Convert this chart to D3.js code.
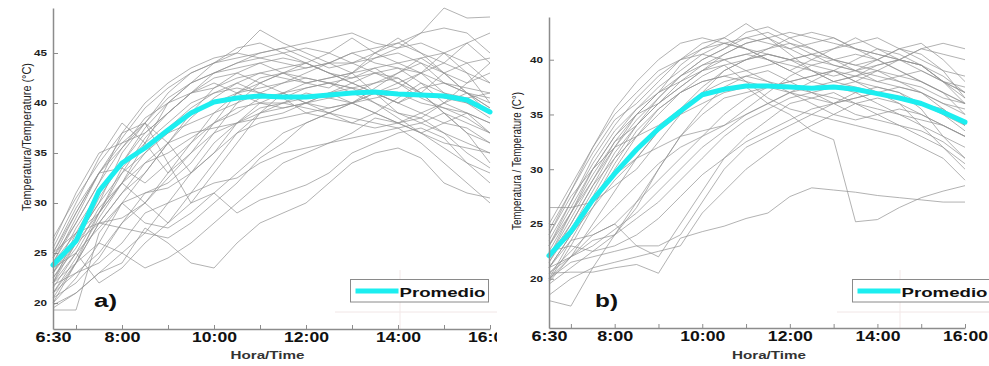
<!DOCTYPE html>
<html>
<head>
<meta charset="utf-8">
<script src="https://cdn.jsdelivr.net/npm/d3@7/dist/d3.min.js"></script>
<style>
  html, body { margin: 0; padding: 0; background: #fff; }
  svg { display: block; font-family: "Liberation Sans", Arial, sans-serif; }
</style>
</head>
<body>
<svg id="chart" width="989" height="366"></svg>
<script>
// ---------- DATA ----------
const hours = [6.5,7,7.5,8,8.5,9,9.5,10,10.5,11,11.5,12,12.5,13,13.5,14,14.5,15,15.5,16];
const xTickValues = [6.5,7,8,9,10,11,12,13,14,15,16];
const xTickLabels = {6.5:"6:30", 8:"8:00", 10:"10:00", 12:"12:00", 14:"14:00", 16:"16:00"};
const yTicksA = [20,25,30,35,40,45];
const yTicksB = [20,25,30,35,40];
const legendLabel = "Promedio";

const averageA = [23.8,26.2,31.2,34.0,35.5,37.3,39.0,40.1,40.5,40.7,40.6,40.6,40.8,41.0,41.1,40.9,40.8,40.7,40.3,39.1];
const averageB = [22.1,24.3,27.2,29.6,31.8,33.7,35.3,36.8,37.3,37.6,37.6,37.5,37.4,37.5,37.3,36.9,36.5,36.0,35.2,34.3];

const seriesA = [
  [26.5,30.5,34,37,40,42,43.5,44.5,45,44.5,44,43.5,44,45,45.5,46,45,44,43,42],
  [25,29,33,36.5,39.5,41.5,43,44,44.5,45,45.5,46,46.5,47,46,45.5,47,49.5,48.5,48.6],
  [24,28,32,35.5,38,40.5,42,43,43.5,44,43,42.5,42,41.5,42,43,44,42,41,40],
  [22,26,30.5,34,37.5,40,42,44,45,47.3,46,45,44,43,44.5,45.5,46,45,44,44.5],
  [23,27.5,31,34,37,39,41,42.5,43,42,41,40,39.5,40,41,42,43,41,40,38.5],
  [21.5,25,29,33.5,36,38,40,41,41.5,41,40.5,39,38.5,38,39,40.5,42,40,39,37],
  [25.5,30,34.5,38,36,33,35,38,41,42,43,44,45,46.5,45,44,43,44,46,47],
  [20,24,28,31,33,36,38.5,40.5,42,43,43.5,44,43,42,41,40,41,43,44,42],
  [22.5,26,29,32,30,28,31,34,37,39,40,41,40.5,40,41.5,43,44.5,45,43,40],
  [19.3,19.3,27,30,31,31.5,33,35,38,40,41,41.5,42,42.5,43,42.5,41,39,37,36],
  [21,23,25,28,30,33,36,39,41,42.5,43,43.5,44,44,44.5,45,44,43,41,40.5],
  [23,26,28,27.5,27,30,33,36,38,39.5,40,40.5,41,40,39,38,37,38,39,38],
  [20.5,22,24.5,28,31,32,34,37,40,42,43,42,41.5,43,45,46,47,47.5,47,45],
  [24.5,28,32,37,38,34,30,33,36,39,41,42,42.5,43,41,39,38.5,40,42,43],
  [22,25,22,23.5,26,28,30,31,33,35,37,38,39,40,41,40,39,38,37.5,36],
  [19.8,21,23,25,27,26.5,28,30,32,34.5,36,38,39,40,40.5,41,40,39.5,38.5,37],
  [24,27,29,32,36,40,42,43,44,45,45.5,44.5,43.5,44,45,46.5,45,43,42,44],
  [21,24.5,28.5,32,35,37.5,39.5,41,42,41,40.5,41.5,42,41,40,39,38,37,36,35],
  [23.5,25,27.5,30,28,27.5,29,31,29,30.3,31,31.8,33,35,36,37,37.5,36.5,34,32],
  [22,24,26,25,23.5,24.5,26,28,30,32,34,35,36,37,38.5,38,37,35.5,34,33],
  [26,31,35,36,37,39,41,43,44,44.5,45,45.5,45,44,43,42,41,40.5,40,39],
  [20.5,24,29,33,36.5,39,41,42,41,40,39.5,40,41,42,43,43.5,42,41,40.5,41],
  [25,29.5,33,36,38,41,43,44,45.5,46,45,44,43,42,41,41.5,43,45,46,44],
  [21.8,23,24,26,29,30,31,32,32.5,34,35,35.5,36,36.5,37,37.5,36,34,32,30],
  [23,26.5,30,35,38,36,33,35,37,38,38.5,39,39.5,40,39,38,39,40,41,39.5],
  [22,27,31,34,35.5,37,39,40,41,41.5,42,42.5,42,41.5,41,40,41.5,42,41,39],
  [24,28.5,33,33.5,32,34,36,38,39,40.5,41,40,39,38,37.5,38,38.5,37,35,33.5],
  [20,22.5,26,30,33,36,39,41.5,43,44,44.5,44,43,42.5,43.5,44,44.5,43,41,39.5],
  [25,27,28,28.5,30,32.5,35,37,38,39,39.5,40,40.5,41,42,42.5,41,39,37,34],
  [22.5,25.5,29.5,32,34,35,36.5,38,39.5,40,40,39.5,39,38.5,38,37.5,38,39,38,37],
  [19.5,21,23,24,27.5,26,24,23.5,26,28,29,30,32,34,35,35.5,34.5,32,31,30.5],
  [23.5,26.5,30,33,35,37,38,39,40,41,42,43,44,45,44,43.5,43,42,41.5,41],
  [21,24,28,31,34,36,37,37.5,38,38.5,39,40,41,41.5,40,38.5,37,36,35.5,35],
  [24.5,29,33,35.5,38.5,40,41,41.5,42.5,43,42.5,42,42.5,43,43.5,42,40.5,39.5,39,38]
];

const seriesB = [
  [23,26.5,30,33,35.5,37.5,39,40.5,41.5,42,41.5,41,41.5,42,41,40.5,40,39.5,38.5,37],
  [21,24,27.5,31,34,36.5,38.5,40,41,42.5,43,42,41,40,39.5,40,41,41.5,40,38],
  [22.5,26,29.5,32.5,34,36,37.5,39,40,40.5,40,39.5,39,38.5,39,40,41,40.5,39,36.5],
  [20,23.5,27,30.5,33.5,35.5,37,38.5,39.5,40,41,42,42.5,42,41,40,39,38,37,35],
  [24.5,28,31.5,34.5,36,38,40,41.5,42,41,40,39,38,37.5,38,39,40,39.5,38,36],
  [19.7,22,25,28,31,33.5,35.5,37.5,39,40,40.5,40,39,38,37.5,37,36.5,36,35,33.5],
  [21.5,25,28.5,32,35,37,39.5,41,42,43.3,42,40.5,39,38,38.5,39.5,40,41,41.5,41],
  [18,17.5,21,24,27,29,31,33,35,36.5,37.5,38,38.5,39,38,37.5,37,36,35.5,34],
  [20.5,20.6,20.6,21,21.3,20.5,23.7,24.3,24.8,25.5,26,27.5,28.3,28.1,27.9,27.6,27.4,27.2,27,27],
  [22,24,26.5,29,31,33.5,35,36,37,37.5,36,35,33.5,32.7,25.2,25.4,26.5,27.4,28,28.5],
  [21,22,23,24.5,26,28,30,32,33.5,35,36,37,37.5,38,38.5,39,38,37,36,35.5],
  [26.5,26.5,27,28.5,30,32.5,35,37,39,40,40.5,40,39.5,39,38,37,36.5,36,35,34],
  [20,21.5,22,22.5,23,23,24,27,30,32,33,34,35,36,37,37.5,37,35.5,33,31],
  [23.5,27,31,34,36.5,38.5,40,41,41.5,41,40.5,40,40.5,41,41.5,42,41,40,39,38.5],
  [21,23.5,24,25,27,30,33,35.5,37.5,38.5,39,38,37,36,35,34.5,34,33.5,32.5,31],
  [22,25.5,29,32.5,35,37,38.5,39.5,40,39,38,37.5,37,36.5,36,35.5,35,34.5,34,33],
  [19.5,21,22.5,24,25.5,27,29,31,33,34.5,35.5,36.5,37,37.5,37,36,35,34,33,32],
  [24,28,32,35.5,38,40,41.5,42,41.5,41,40,39,40,41,42,41,40,39.5,38,37.5],
  [20.5,22,24,25,23,22,25,28,31,33,34.5,36,36.5,37,36,35,34,33,32,30.5],
  [22,25,28.5,31,33,35,37,38,38.5,39,39.5,40,40.5,40,39.5,39,38.5,38,37,36],
  [23,27,30.5,33.5,35.5,37,38,39,39.5,38,36.5,35.5,35,34.5,34,33.5,33,32,31,29],
  [21.5,24.5,28,31.5,34,36,38,39.5,40.5,41.5,42,42.5,42,41.5,41,40.5,40,41,40.5,40],
  [20,22,23.5,24,26.5,30,33,35,36.5,37,37.5,38,38.5,39,38.5,38,37.5,37,36,35],
  [25,28.5,32,35,37,39,40,40.5,40,40.5,41,41.5,41,40,39,38,38.5,39,38,36.5],
  [22.5,23,22.5,23,24,25.5,27.5,29.5,31,32.5,33.5,34.5,35.5,36,36.5,37,36,34,32,30],
  [19.8,23,26.5,30,33,35.5,37,38,38.5,38,37.5,37,36.5,36,36.5,37,37.5,37,35.5,34],
  [23,26,29,32,34.5,36.5,38.5,40,41,42,42.5,41.5,40.5,39.5,39,38.5,38,37.5,36.5,36],
  [21,24,27,29.5,31,32,33,33.5,34,35,36,37,38,39,40,41,40.5,39.5,38,37],
  [24,27.5,30,32,33,34,35.5,37,38,38.5,38,37,36,35,34.5,35,35.5,35,34,33],
  [20.5,22.5,24.5,26.5,28.5,30.5,32,33,34,35.5,37,38.5,39.5,40,40.5,40,39,38,37,36],
  [22,26,30,33,35,36,37.5,39,40.5,41.5,42,41,40,39.5,39,39.5,40,39,38,37],
  [18.5,20,21,21.5,22,22.5,23,26,28,30,31.5,33,34,35,36,36.5,36,35,34,33]
];

// ---------- DRAW ----------
const svg = d3.select("#chart");
svg.append("rect").attr("width", 989).attr("height", 366).attr("fill", "#fff");

const defs = svg.append("defs");
defs.append("clipPath").attr("id", "clipA").append("rect")
  .attr("x", 0).attr("y", 0).attr("width", 497).attr("height", 366);

function panel(cfg) {
  const g = svg.append("g").attr("clip-path", cfg.clip ? `url(#${cfg.clip})` : null);
  const x = d3.scaleLinear().domain([6.5, 16]).range([cfg.x0, cfg.x1]);
  const y = d3.scaleLinear().domain(cfg.yDomain).range([cfg.yBot, cfg.yTop]);

  // faint guide lines near legend
  g.append("line").attr("x1", cfg.guideH[0]).attr("x2", cfg.guideH[1])
    .attr("y1", 312).attr("y2", 312).attr("stroke", "#f1e6e6").attr("stroke-width", 1);
  g.append("line").attr("x1", cfg.guideV).attr("x2", cfg.guideV)
    .attr("y1", 270).attr("y2", cfg.yBot).attr("stroke", "#f3e8e8").attr("stroke-width", 1);

  const line = d3.line().x((d, i) => x(hours[i])).y(d => y(d));

  g.append("g").selectAll("path").data(cfg.series).join("path")
    .attr("d", line)
    .attr("fill", "none")
    .attr("stroke", "#929292")
    .attr("stroke-opacity", 0.7)
    .attr("stroke-width", 1);

  g.append("path").datum(cfg.avg).attr("d", line)
    .attr("fill", "none").attr("stroke", "#1ceef0").attr("stroke-width", 5)
    .attr("stroke-linejoin", "round").attr("stroke-linecap", "round");

  // axes
  const xAxis = d3.axisBottom(x).tickValues(xTickValues)
    .tickFormat(d => xTickLabels[d] || "").tickSizeInner(-4).tickSizeOuter(0).tickPadding(6);
  const gx = g.append("g").attr("transform", `translate(0,${cfg.yBot})`).call(xAxis);
  gx.select(".domain").attr("stroke", "#8c8c8c").attr("stroke-width", 1.5);
  gx.selectAll(".tick line").attr("stroke", "#8c8c8c").attr("stroke-width", 1);
  gx.selectAll(".tick text")
    .attr("y", 13).attr("dy", 0)
    .attr("font-size", 14).attr("font-weight", "bold").attr("fill", "#111")
    .attr("font-family", "'Liberation Sans', Arial, sans-serif")
    .each(function(d) {
      const s = xTickLabels[d] || "";
      if (s) d3.select(this).attr("textLength", s.length === 4 ? 36 : 45).attr("lengthAdjust", "spacingAndGlyphs");
    });

  const yAxis = d3.axisLeft(y).tickValues(cfg.yTicks).tickSizeInner(-5).tickSizeOuter(0).tickPadding(6);
  const gy = g.append("g").attr("transform", `translate(${cfg.x0},0)`).call(yAxis);
  gy.select(".domain").attr("stroke", "#8c8c8c").attr("stroke-width", 1.5);
  gy.selectAll(".tick line").attr("stroke", "#8c8c8c").attr("stroke-width", 1);
  gy.selectAll(".tick text")
    .attr("font-size", 9).attr("font-weight", "bold").attr("fill", "#222")
    .attr("font-family", "'Liberation Sans', Arial, sans-serif")
    .attr("textLength", 13).attr("lengthAdjust", "spacingAndGlyphs");

  // axis titles
  g.append("text")
    .attr("x", (cfg.x0 + cfg.x1) / 2 + cfg.xTitleShift).attr("y", 359)
    .attr("text-anchor", "middle").attr("font-size", 11.5).attr("font-weight", "bold").attr("fill", "#333")
    .attr("textLength", 74).attr("lengthAdjust", "spacingAndGlyphs")
    .text("Hora/Time");

  g.append("text")
    .attr("transform", `translate(${cfg.yTitleX},${cfg.yTitleY}) rotate(-90)`)
    .attr("text-anchor", "middle").attr("font-size", 13).attr("fill", "#222")
    .attr("textLength", cfg.yTitleLen).attr("lengthAdjust", "spacingAndGlyphs")
    .text(cfg.yTitle);

  // panel letter
  g.append("text").attr("x", cfg.letterX).attr("y", 307)
    .attr("font-size", 18).attr("font-weight", "bold").attr("fill", "#111")
    .attr("textLength", 23).attr("lengthAdjust", "spacingAndGlyphs")
    .text(cfg.letter);

  // legend
  const lg = g.append("g");
  lg.append("rect").attr("x", cfg.legX).attr("y", 279.5).attr("width", cfg.legW).attr("height", 22.5)
    .attr("fill", "#fff").attr("stroke", "#8a8a8a").attr("stroke-width", 1);
  lg.append("line").attr("x1", cfg.legX + 5).attr("x2", cfg.legX + 48)
    .attr("y1", 291).attr("y2", 291).attr("stroke", "#1ceef0").attr("stroke-width", 5);
  lg.append("text").attr("x", cfg.legX + 49).attr("y", 297)
    .attr("font-size", 13.5).attr("font-weight", "bold").attr("fill", "#111")
    .attr("textLength", 86).attr("lengthAdjust", "spacingAndGlyphs")
    .text(legendLabel);
}

panel({
  clip: "clipA",
  x0: 53, x1: 490, yTop: 8, yBot: 329, yDomain: [17.4, 49.5],
  yTicks: yTicksA, series: seriesA, avg: averageA,
  yTitle: "Temperatura/Temperature (°C)", yTitleX: 31, yTitleY: 137, yTitleLen: 148,
  xTitleShift: -4, letter: "a)", letterX: 94,
  legX: 350.5, legW: 138, guideH: [335, 497], guideV: 400
});

panel({
  clip: null,
  x0: 549, x1: 965, yTop: 17, yBot: 328, yDomain: [15.5, 43.9],
  yTicks: yTicksB, series: seriesB, avg: averageB,
  yTitle: "Temperatura / Temperature (C°)", yTitleX: 521, yTitleY: 161, yTitleLen: 138,
  xTitleShift: 12, letter: "b)", letterX: 595,
  legX: 852.5, legW: 140, guideH: [837, 989], guideV: 900
});
</script>
</body>
</html>
